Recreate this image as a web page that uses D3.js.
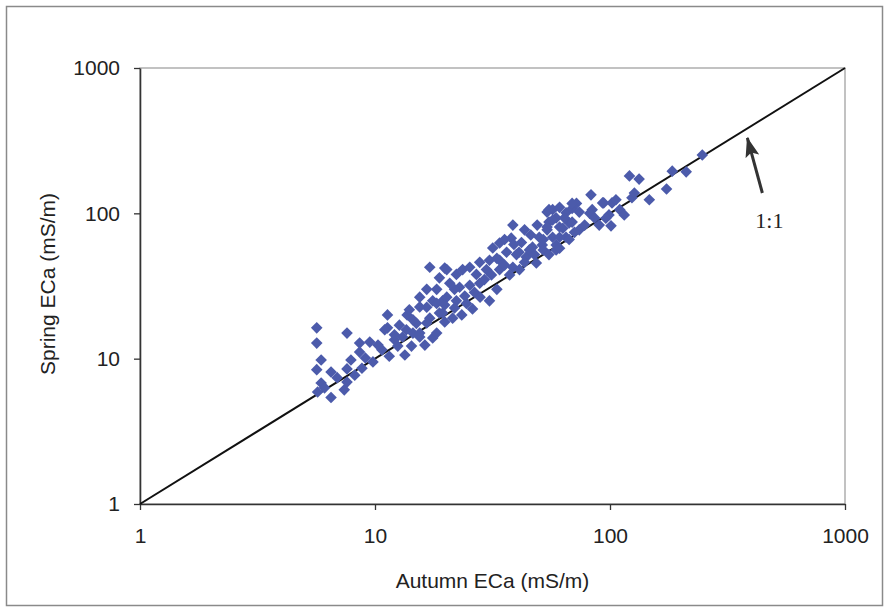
<!DOCTYPE html>
<html>
<head>
<meta charset="utf-8">
<script src="https://cdn.jsdelivr.net/npm/d3@7"></script>
<style>
  body { margin: 0; background: #fff; }
  text { font-family: "Liberation Sans", Arial, sans-serif; fill: #222; }
  .note { font-family: "Liberation Serif", "Times New Roman", serif; }
</style>
</head>
<body>
<svg id="drawing_region"></svg>
<script>
// autumn ECa (x) and spring ECa (y), mS/m
const autumn = [
  5.65, 5.65, 5.9, 5.65, 6.5, 7.6, 7.6, 5.9, 5.7, 6.5,
  7.4, 7.6, 8.8, 8.6, 9.5, 8.6, 9.8, 10.7, 11.3, 11.3,
  13.4, 13.7, 14.5, 15.5, 17.6, 15.0, 17.1, 18.8, 19.4, 17.6,
  16.6, 6.1, 6.9, 8.2, 9.1, 10.3, 12.1, 12.5, 7.9, 11.5,
  17.1, 19.8, 20.2, 18.8, 22.2, 23.6, 25.3, 27.0, 20.8, 22.9,
  25.3, 27.9, 33, 18.3, 16.6, 15.5, 18.3, 20.2, 22.2, 24.5,
  15.5, 14.0, 19.4, 21.4, 14.5, 16.6, 13.6, 15.5, 18.3, 13.1,
  29.8, 33.9, 38.6, 30.7, 33.9, 27.9, 33.9, 31.7, 36.3, 40,
  44, 48.6, 38.6, 38, 42, 46.8, 51.5, 59, 46, 50,
  57, 65, 54, 55, 61, 67, 59, 54, 57, 65,
  69, 72, 84, 99, 83, 94, 102, 124, 127, 121,
  133, 184, 211, 174, 247, 106, 93, 69, 61, 55,
  74, 57, 69, 82, 96, 54, 63, 74, 67, 52,
  59, 52, 21.8, 24.1, 26.5, 29.2, 31.3, 35.6, 37.4, 41.2,
  43.3, 45.4, 47.7, 55, 61, 70.6, 78, 86, 90, 110,
  64, 28, 30.7, 26, 23.4, 19.8, 16.3, 14.3, 12.7, 12.1,
  11, 19.8, 21.8, 39, 35.6, 43.3, 49, 61, 41, 33,
  101, 115, 147
];
const spring = [
  16.3, 12.8, 9.8, 8.4, 8.1, 15.0, 8.5, 6.8, 5.9, 5.4,
  6.1, 6.9, 8.6, 12.8, 13.0, 11.1, 9.5, 11.5, 20.0, 16.3,
  10.6, 20.0, 15.0, 14.1, 13.9, 17.5, 19.0, 20.6, 25.0, 25.0,
  22.6, 6.3, 7.4, 7.7, 10.1, 12.4, 13.5, 12.2, 9.8, 10.4,
  42.6, 42, 41, 36, 38, 41, 42.6, 38, 33, 31,
  32, 33, 30, 30, 30, 26.5, 24, 26.5, 25, 24,
  22.7, 21.7, 20.6, 19, 18.5, 17.6, 15.8, 15, 15, 14.1,
  41, 41, 42.6, 47.6, 47.6, 46, 62.5, 57.7, 54, 52,
  50, 45.5, 83, 67.5, 63, 58.5, 60.5, 60.5, 71, 68.5,
  68.5, 68.5, 77, 87, 80.5, 86, 93, 102, 106, 101,
  108, 117, 106, 97.5, 134, 118, 118, 128, 138, 181,
  172, 195, 193, 147, 252, 124, 118, 117, 110, 106,
  102, 90, 87, 100, 92.5, 80.5, 79, 77, 66, 66,
  56, 56, 30, 27, 28.6, 35, 37.7, 44, 37.7, 41,
  46, 56, 52, 52, 57.5, 74, 83, 93, 83, 106,
  93, 26.5, 25, 22, 20, 17.9, 12.4, 12.2, 17, 14.6,
  15.8, 23.4, 22.3, 61, 66, 77, 83, 68.5, 54, 49,
  82, 97.5, 124
];
const tickValues = [1, 10, 100, 1000];
const xTitle = 'Autumn ECa (mS/m)';
const yTitle = 'Spring ECa (mS/m)';
const lineLabel = '1:1';
// arrow tip and tail, in data units
const arrowTip = [384, 330];
const arrowTail = [445, 138];

const width = 886, height = 609;
const margin = {top: 68, right: 41, bottom: 105, left: 140};
const innerW = width - margin.left - margin.right;
const innerH = height - margin.top - margin.bottom;

const svg = d3.select('#drawing_region')
    .attr('width', width)
    .attr('height', height);

// outer frame
svg.append('rect')
    .attr('x', 6.5).attr('y', 6.5)
    .attr('width', width - 10).attr('height', height - 10)
    .attr('fill', 'none')
    .attr('stroke', '#8a8a8a')
    .attr('stroke-width', 1.5);

const chart = svg.append('g')
    .attr('transform', `translate(${margin.left}, ${margin.top})`);

const xscale = d3.scaleLog().domain([1, 1000]).range([0, innerW]);
const yscale = d3.scaleLog().domain([1, 1000]).range([innerH, 0]);

// plot area border (top / right in grey)
chart.append('rect')
    .attr('width', innerW).attr('height', innerH)
    .attr('fill', 'none')
    .attr('stroke', '#9a9a9a')
    .attr('stroke-width', 1.2);

const xaxis = d3.axisBottom(xscale)
    .tickValues(tickValues)
    .tickFormat(d3.format('d'))
    .tickSizeInner(6).tickSizeOuter(0)
    .tickPadding(18);

const yaxis = d3.axisLeft(yscale)
    .tickValues(tickValues)
    .tickFormat(d3.format('d'))
    .tickSizeInner(6).tickSizeOuter(0)
    .tickPadding(14);

const xg = chart.append('g')
    .attr('transform', `translate(0, ${innerH})`)
    .call(xaxis);
const yg = chart.append('g').call(yaxis);

[xg, yg].forEach(g => {
    g.select('.domain').attr('stroke', '#333').attr('stroke-width', 1.6);
    g.selectAll('.tick line').attr('stroke', '#333').attr('stroke-width', 1.3);
    g.selectAll('.tick text')
        .attr('font-size', 21)
        .attr('font-family', '"Liberation Sans", Arial, sans-serif')
        .attr('fill', '#222');
});

// 1:1 line
chart.append('line')
    .attr('x1', xscale(1)).attr('y1', yscale(1))
    .attr('x2', xscale(1000)).attr('y2', yscale(1000))
    .attr('stroke', '#111')
    .attr('stroke-width', 2);

// points (diamonds)
const data = autumn.map((a, i) => ({a: a, s: spring[i]}));
chart.selectAll('path.pt')
    .data(data)
    .enter()
    .append('path')
    .attr('class', 'pt')
    .attr('d', d3.symbol().type(d3.symbolDiamond2).size(86))
    .attr('transform', d => `translate(${xscale(d.a)}, ${yscale(d.s)})`)
    .attr('fill', '#4c5bab');

// arrow + label
svg.append('defs').append('marker')
    .attr('id', 'head')
    .attr('markerUnits', 'userSpaceOnUse')
    .attr('viewBox', '0 0 20 14')
    .attr('refX', 19).attr('refY', 7)
    .attr('markerWidth', 20).attr('markerHeight', 14)
    .attr('orient', 'auto')
    .append('path')
    .attr('d', 'M0,0 L20,7 L0,14 L4,7 Z')
    .attr('fill', '#333');

chart.append('line')
    .attr('x1', xscale(arrowTail[0])).attr('y1', yscale(arrowTail[1]))
    .attr('x2', xscale(arrowTip[0])).attr('y2', yscale(arrowTip[1]))
    .attr('stroke', '#333')
    .attr('stroke-width', 3)
    .attr('marker-end', 'url(#head)');

chart.append('text')
    .attr('class', 'note')
    .attr('x', xscale(arrowTail[0]) + 7)
    .attr('y', yscale(arrowTail[1]) + 35)
    .attr('text-anchor', 'middle')
    .attr('font-size', 22)
    .text(lineLabel);

// axis titles
svg.append('text')
    .attr('x', margin.left + innerW / 2)
    .attr('y', 588)
    .attr('text-anchor', 'middle')
    .attr('font-size', 21)
    .text(xTitle);

svg.append('text')
    .attr('transform', `translate(55, ${margin.top + innerH / 2 - 2}) rotate(-90)`)
    .attr('text-anchor', 'middle')
    .attr('font-size', 21)
    .text(yTitle);
</script>
</body>
</html>
